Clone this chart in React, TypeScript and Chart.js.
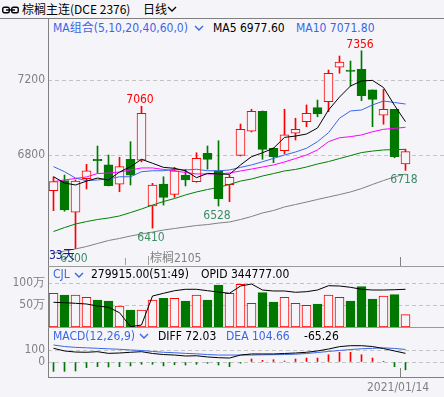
import React, { useEffect, useRef } from "react";
import { Chart, registerables } from "chart.js";
Chart.register(...registerables);

const BG = "#f5f5f9";
const RED = "#ff0000";
const GREEN = "#007800";
const BLUE = "#3a66e6";
const GRAY = "#808080";
const LOWC = "#3c8c64";
const CFONT = '"DejaVu Sans Condensed", "DejaVu Sans", sans-serif';
const FONT = '"DejaVu Sans Condensed", "DejaVu Sans", "Noto Sans CJK SC", sans-serif';

// ---- data ----
const days = ["1","2","3","4","5","6","7","8","9","10","11","12","13","14","15","16","17","18","19","20","21","22","23","24","25","26","27","28","29","30","31","32","33"];
const opens = [6610,6663,6495,6674,6777,6747,6645,6777,6773,6528,6645,6590,6693,6658,6809,6716,6642,6798,6927,7033,6836,6823,6916,6978,7053,7084,7268,7253,7257,7147,7013,7044,6752];
const highs = [6683,6693,6667,6750,6848,6800,6788,6871,7060,6649,6684,6734,6724,6812,6848,6876,6693,6965,7044,7035,6838,7044,6996,7067,7093,7253,7328,7301,7356,7147,7150,7044,6831];
const lows = [6503,6500,6300,6619,6704,6635,6604,6640,6763,6410,6533,6574,6635,6655,6724,6528,6551,6795,6923,6777,6759,6806,6880,6951,7004,7031,7236,7168,7090,6951,6964,6785,6718];
const closes = [6658,6507,6661,6716,6770,6637,6738,6693,7022,6640,6574,6716,6667,6782,6777,6567,6681,6937,7033,6830,6791,6908,6937,7022,7019,7236,7295,7246,7116,7097,7044,6791,6818];
const ma5 = [6684,6651,6640,6661,6677,6667,6709,6738,6777,6756,6734,6729,6716,6679,6702,6699,6697,6747,6791,6812,6836,6894,6901,6912,6944,7040,7109,7168,7195,7198,7160,7065,6977.6];
const ma10 = [6738,6711,6677,6663,6667,6672,6684,6684,6711,6716,6716,6724,6720,6724,6716,6716,6720,6734,6747,6764,6782,6800,6816,6836,6871,6919,6996,7035,7040,7067,7088,7080,7071.8];
const ma20 = [6658,6667,6675,6683,6701,6704,6709,6720,6731,6731,6723,6715,6707,6699,6699,6699,6704,6715,6725,6736,6747,6763,6781,6800,6827,6871,6892,6898,6907,6924,6937,6942,6948];
const ma40 = [6392,6413,6432,6445,6456,6464,6475,6493,6512,6533,6552,6568,6587,6603,6616,6627,6643,6661,6672,6688,6701,6715,6723,6736,6752,6765,6781,6797,6813,6821,6827,6829,6830];
const ma60 = [6275,6288,6299,6312,6328,6344,6355,6368,6379,6389,6400,6408,6416,6424,6429,6437,6443,6456,6472,6491,6504,6523,6536,6549,6563,6576,6589,6603,6621,6643,6664,6683,6699];
const volume = [766000,727000,727000,675000,614000,591000,477000,386000,386000,614000,652000,652000,591000,727000,614000,955000,766000,970000,539000,780000,568000,675000,539000,493000,523000,727000,675000,591000,916000,636000,705000,734000,279915];
const openInterest = [277600,275500,272400,268800,258500,251800,223900,151500,160300,310100,324100,337500,344800,344800,337500,330800,324100,361800,372100,341100,336000,336000,329300,332400,341100,363400,361800,355100,344800,341100,341100,342700,344777];
const diff = [114,92,83,81,86,72,75,81,86,71,62,58,50,52,42,36,33,58,67,67,67,71,75,81,92,108,128,136,136,129,112,92,72.03];
const dea = [142,129,122,118,114,110,106,100,96,88,81,77,72,68,62,58,58,58,58,60,61,62,65,71,79,88,96,104,110,114,118,113,104.66];
const macdHist = [-78,-78,-75,-47,-39,-42,-39,-33,-19,-19,-33,-22,-25,-19,-11,-25,-39,-10,25,14,19,8,25,33,33,61,81,81,61,33,6,-39,-65.26];
const priceTicks = [6800, 7200];
const volTicks = [500000, 1000000];
const macdTicks = [0, 100];
const highMarks = [8, 28];
const lowMarks = [2, 9, 15, 32];

const labels = [...days, "", "", ""];
const isUp = closes.map((c, i) => c >= opens[i]);

function yAxis(min: number, max: number, ticks: number[], fmt: (v: number) => string) {
  return {
    min,
    max,
    afterBuildTicks: (s: any) => {
      s.ticks = ticks.map((v) => ({ value: v }));
    },
    afterFit: (s: any) => {
      s.width = 48;
      s.paddingTop = 0;
      s.paddingBottom = 0;
    },
    ticks: { color: GRAY, font: { family: CFONT, size: 12 }, padding: 3, callback: (v: any) => fmt(Number(v)) },
    grid: { color: "#c4c4c4", drawTicks: false, lineWidth: 1 },
    border: { display: false, dash: [4, 3] },
  };
}

const baseOptions = {
  animation: false,
  responsive: false,
  events: [],
  layout: { padding: 0 },
  plugins: { legend: { display: false }, tooltip: { enabled: false } },
};

const lineDs = (data: number[], color: string, yAxisID = "y") => ({
  type: "line",
  data,
  borderColor: color,
  borderWidth: 1,
  pointRadius: 0,
  tension: 0,
  fill: false,
  order: 0,
  yAxisID,
});

const markPlugin = {
  id: "hiLoMarks",
  afterDatasetsDraw(chart: any) {
    const { ctx } = chart;
    const x = chart.scales.x;
    const y = chart.scales.y;
    ctx.save();
    ctx.font = `12px ${CFONT}`;
    ctx.textAlign = "center";
    ctx.textBaseline = "alphabetic";
    ctx.fillStyle = RED;
    highMarks.forEach((i) => ctx.fillText(String(highs[i]), x.getPixelForValue(i) - 1.5, y.getPixelForValue(highs[i]) - 3));
    ctx.fillStyle = LOWC;
    lowMarks.forEach((i) => ctx.fillText(String(lows[i]), x.getPixelForValue(i) - 1.5, y.getPixelForValue(lows[i]) + 13));
    ctx.restore();
  },
};

const mainConfig = () => ({
  type: "bar",
  data: {
    labels,
    datasets: [
      lineDs(ma5, "#000000"),
      lineDs(ma10, BLUE),
      lineDs(ma20, "#ff00ff"),
      lineDs(ma40, "#008000"),
      lineDs(ma60, GRAY),
      {
        type: "bar",
        data: opens.map((o, i) => [o, closes[i]]),
        backgroundColor: isUp.map((u) => (u ? BG : GREEN)),
        borderColor: isUp.map((u) => (u ? RED : GREEN)),
        borderWidth: 1,
        borderSkipped: false,
        barThickness: 9,
        grouped: false,
        order: 1,
      },
      {
        type: "bar",
        data: lows.map((l, i) => [l, highs[i]]),
        backgroundColor: isUp.map((u) => (u ? RED : GREEN)),
        borderWidth: 0,
        barThickness: 1,
        grouped: false,
        order: 2,
      },
    ],
  },
  options: {
    ...baseOptions,
    scales: {
      x: { type: "category", display: false, offset: true },
      y: yAxis(6208, 7434.67, priceTicks, (v) => String(v)),
    },
  },
  plugins: [markPlugin],
});

const volConfig = () => ({
  type: "bar",
  data: {
    labels,
    datasets: [
      lineDs(openInterest, "#000000", "y1"),
      {
        type: "bar",
        data: volume,
        backgroundColor: isUp.map((u) => (u ? BG : GREEN)),
        borderColor: isUp.map((u) => (u ? RED : GREEN)),
        borderWidth: 1,
        borderSkipped: false,
        barThickness: 9,
        grouped: false,
        order: 1,
      },
    ],
  },
  options: {
    ...baseOptions,
    scales: {
      x: { type: "category", display: false, offset: true },
      y: yAxis(0, 1295455, volTicks, (v) => v / 10000 + "万"),
      y1: { display: false, min: 150000, max: 444462 },
    },
  },
});

const macdConfig = () => ({
  type: "bar",
  data: {
    labels,
    datasets: [
      lineDs(diff, "#000000"),
      lineDs(dea, BLUE),
      {
        type: "bar",
        data: macdHist,
        backgroundColor: macdHist.map((v) => (v >= 0 ? RED : GREEN)),
        borderWidth: 0,
        barThickness: 1,
        grouped: false,
        order: 1,
      },
    ],
  },
  options: {
    ...baseOptions,
    scales: {
      x: { type: "category", display: false, offset: true },
      y: yAxis(-125, 275, macdTicks, (v) => String(v)),
    },
  },
});

function ChartCanvas({ top, height, build }: { top: number; height: number; build: () => any }) {
  const ref = useRef<HTMLCanvasElement | null>(null);
  useEffect(() => {
    const chart = new Chart(ref.current as HTMLCanvasElement, build());
    return () => chart.destroy();
  }, []);
  return (
    <canvas
      ref={ref}
      width={444}
      height={height}
      style={{ position: "absolute", left: 0, top, width: 444, height }}
    />
  );
}

const Txt = ({ x, y, c = "#000", s = 12, f = FONT, children }: any) => (
  <div
    style={{
      position: "absolute",
      left: x,
      top: y - 8,
      height: 16,
      lineHeight: "16px",
      fontSize: s,
      fontFamily: f,
      color: c,
      whiteSpace: "nowrap",
    }}
  >
    {children}
  </div>
);

const Chev = ({ x, y, c }: any) => (
  <svg style={{ position: "absolute", left: x, top: y - 3 }} width={10} height={7}>
    <polyline points="1,1 5,5 9,1" fill="none" stroke={c} strokeWidth={1.4} />
  </svg>
);

const Ln = ({ x, y, w, h, c = GRAY }: any) => (
  <div style={{ position: "absolute", left: x, top: y, width: w, height: h, background: c }} />
);

export default function App() {
  return (
    <div
      style={{
        position: "fixed",
        left: 0,
        top: 0,
        width: 444,
        height: 397,
        background: BG,
        overflow: "hidden",
        fontFamily: FONT,
      }}
    >
      <ChartCanvas top={36} height={230} build={mainConfig} />
      <ChartCanvas top={270} height={57} build={volConfig} />
      <ChartCanvas top={329} height={48} build={macdConfig} />

      {/* frame lines */}
      <Ln x={0} y={18} w={444} h={1} />
      <Ln x={48} y={18} w={1} h={360} />
      <Ln x={48} y={266} w={396} h={1} c="#9a9a9a" />
      <Ln x={48} y={327} w={396} h={1} c="#9a9a9a" />
      <Ln x={48} y={377} w={396} h={1} />
      <Ln x={400} y={257} w={1} h={9} />
      <Ln x={400} y={368} w={1} h={9} />
      <Ln x={125} y={258} w={1} h={7} c="#a0a0a0" />
      <Ln x={148} y={256} w={1} h={9} c="#a0a0a0" />

      {/* title bar */}
      <svg style={{ position: "absolute", left: 2, top: 6 }} width={17} height={9}>
        <rect x={0.75} y={1.25} width={6.5} height={5.5} rx={1.5} fill="none" stroke="#000" strokeWidth={1.4} />
        <rect x={9.75} y={1.25} width={6.5} height={5.5} rx={1.5} fill="none" stroke="#000" strokeWidth={1.4} />
        <line x1={4} y1={4} x2={13} y2={4} stroke="#000" strokeWidth={1.4} />
      </svg>
      <Txt x={22} y={9} f='"Noto Sans CJK SC", sans-serif' s={12}>棕榈主连(DCE 2376)</Txt>
      <Txt x={143} y={9} f='"Noto Sans CJK SC", sans-serif' s={12}>日线</Txt>
      <Chev x={167} y={9} c="#000" />

      {/* main header */}
      <Txt x={53} y={27.5} c={BLUE}>MA组合(5,10,20,40,60,0)</Txt>
      <Chev x={194} y={28} c={BLUE} />
      <Txt x={213} y={27.5}>MA5 6977.60</Txt>
      <Txt x={296} y={27.5} c={BLUE}>MA10 7071.80</Txt>

      <Txt x={49} y={255} c="#1a1a90">33天</Txt>
      <Txt x={150} y={257.5} c={GRAY}>棕榈2105</Txt>

      {/* volume header */}
      <Txt x={53} y={274} c={BLUE}>CJL</Txt>
      <Chev x={74} y={275} c={BLUE} />
      <Txt x={91} y={274}>279915.00(51:49)</Txt>
      <Txt x={201} y={274}>OPID 344777.00</Txt>

      {/* macd header */}
      <Txt x={53} y={335.5} c={BLUE}>MACD(12,26,9)</Txt>
      <Chev x={139} y={336} c={BLUE} />
      <Txt x={158} y={335.5}>DIFF 72.03</Txt>
      <Txt x={226} y={335.5} c={BLUE}>DEA 104.66</Txt>
      <Txt x={304} y={335.5}>-65.26</Txt>

      <Txt x={367} y={387} c={GRAY}>2021/01/14</Txt>
    </div>
  );
}
